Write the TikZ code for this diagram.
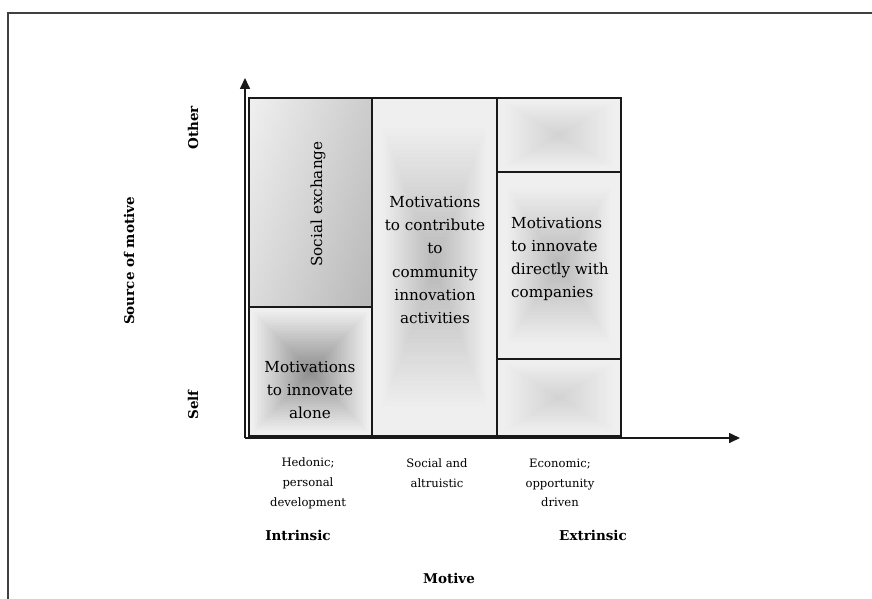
\documentclass[tikz,border=0pt]{standalone}
\usepackage{fontspec}
\setmainfont{DejaVu Serif}
\usetikzlibrary{arrows.meta,calc,shadings}
\newcommand{\ctrshade}[7]{%
  \pgfmathsetmacro{\cxa}{(#1+#3)/2}%
  \pgfmathsetmacro{\cya}{(#2+#4)/2}%
  \pgfmathsetmacro{\hwa}{(#3-#1)/2}%
  \pgfmathsetmacro{\hha}{(#4-#2)/2}%
  \foreach \i in {0,...,40}{%
    \pgfmathsetmacro{\ss}{1-\i/40}%
    \pgfmathsetmacro{\pp}{max(0,min(100,100*(1-\ss/#7)))}%
    \colorlet{shc}{#5!\pp!#6}%
    \fill[shc] (\cxa-\ss*\hwa,\cya-\ss*\hha) rectangle (\cxa+\ss*\hwa,\cya+\ss*\hha);
  }%
}
\definecolor{lightg}{HTML}{EFEFEF}
\definecolor{darkA}{HTML}{8C8C8C}
\definecolor{darkB}{HTML}{B8B8B8}
\definecolor{darkC}{HTML}{D2D2D2}
\begin{document}
\begin{tikzpicture}[x=1pt,y=-1pt,
  boxline/.style={line width=1.6pt,draw=black!90},
  axisline/.style={line width=1.6pt,draw=black!90,-{Triangle[length=11pt,width=10pt]}},
  maintext/.style={inner sep=0pt,font={\fontsize{15.2}{23.2}\selectfont}},
  smalltext/.style={inner sep=0pt,align=center,font={\fontsize{11.6}{19.8}\selectfont}},
  boldtext/.style={inner sep=0pt,font={\fontsize{13.5}{16}\selectfont\bfseries}}]
\useasboundingbox (0,0) rectangle (872,599);
\fill[white] (0,0) rectangle (872,599);
% outer frame (cropped)
\draw[line width=2pt,black!75] (8,620) -- (8,13) -- (890,13);

% shadings
\shade[upper left=black!6,upper right=black!20,lower left=black!14,lower right=black!28] (249,98) rectangle (372,307);
\ctrshade{249}{307}{372}{436}{darkA}{lightg}{0.95}
\ctrshade{372}{98}{497}{436}{darkB}{lightg}{0.85}
\ctrshade{497}{98}{621}{172}{darkC}{lightg}{0.9}
\ctrshade{497}{172}{621}{359}{darkB}{lightg}{0.85}
\ctrshade{497}{359}{621}{436}{darkC}{lightg}{0.9}

% box outlines
\draw[boxline] (249,98) rectangle (372,307);
\draw[boxline] (249,307) rectangle (372,436);
\draw[boxline] (372,98) rectangle (497,436);
\draw[boxline] (497,98) rectangle (621,172);
\draw[boxline] (497,172) rectangle (621,359);
\draw[boxline] (497,359) rectangle (621,436);

% axes
\coordinate (O) at (245,438);
\coordinate (ytip) at (245,78);
\coordinate (xtip) at (740,438);
\draw[axisline] (O) -- (ytip);
\draw[axisline] (O) -- (xtip);

% box texts
\node[maintext,rotate=90] (social) at (318,204) {Social exchange};
\node[maintext,align=center] (alone) at (310,390) {Motivations\\to innovate\\alone};
\node[maintext,align=center] (community) at (435,260) {Motivations\\to contribute\\to\\community\\innovation\\activities};
\node[maintext,align=left,anchor=west] (companies) at (511,259) {Motivations\\to innovate\\directly with\\companies};

% axis labels
\node[boldtext,rotate=90] (other) at (193,128) {Other};
\node[boldtext,rotate=90] (self) at (193,405) {Self};
\node[boldtext,rotate=90] (source) at (129,261) {Source of motive};
\node[smalltext] (hedonic) at (308,483) {Hedonic;\\personal\\development};
\node[smalltext] (altru) at (437,473) {Social and\\altruistic};
\node[smalltext] (econ) at (560,483) {Economic;\\opportunity\\driven};
\node[boldtext] (intr) at (298,535) {Intrinsic};
\node[boldtext] (extr) at (593,535) {Extrinsic};
\node[boldtext] (motive) at (449,578) {Motive};
\end{tikzpicture}
\end{document}
